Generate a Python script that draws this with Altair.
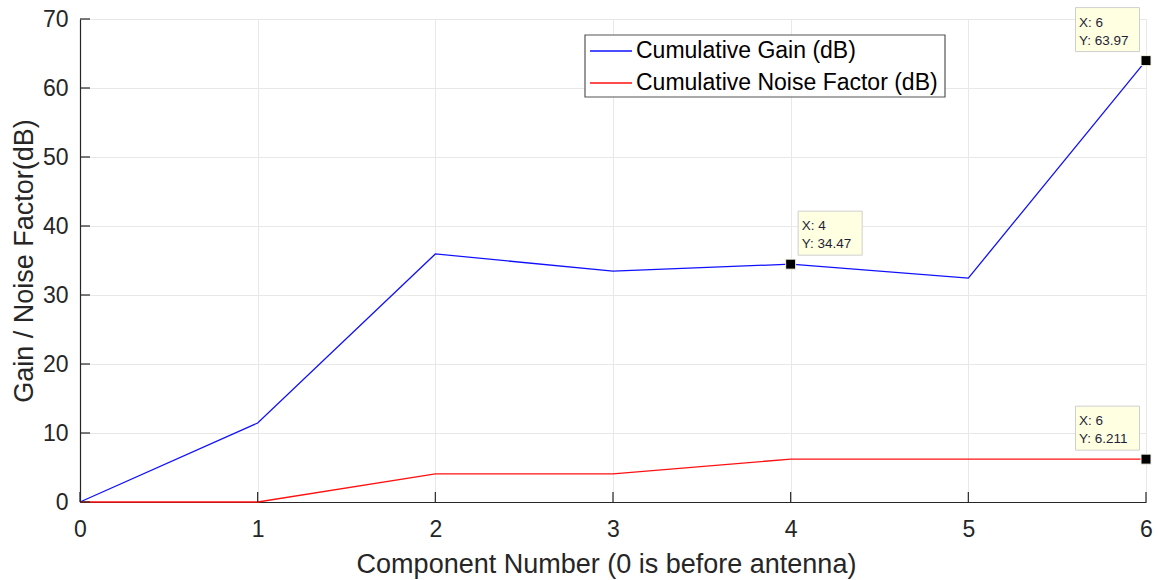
import altair as alt
import pandas as pd

# Component index along the receive chain (0 is before the antenna)
components = [0, 1, 2, 3, 4, 5, 6]
cumulative_gain = [0, 11.45, 35.95, 33.45, 34.47, 32.45, 63.97]
cumulative_nf = [0, 0, 4.08, 4.08, 6.211, 6.211, 6.211]
series_names = ["Cumulative Gain (dB)", "Cumulative Noise Factor (dB)"]
series_colors = ["#1010ff", "#ff1010"]

# Data tips shown on the chart
tip_x = [4, 6, 6]
tip_y = [34.47, 63.97, 6.211]
tip_side = ["right", "left", "left"]

x_ticks = [0, 1, 2, 3, 4, 5, 6]
y_ticks = [0, 10, 20, 30, 40, 50, 60, 70]

W, H = 1066, 483
AXIS = "#262626"
FONT = "Liberation Sans"

lines_df = pd.DataFrame(
    {
        "component": components * 2,
        "value": cumulative_gain + cumulative_nf,
        "series": [series_names[0]] * len(components) + [series_names[1]] * len(components),
    }
)


def fmt(v):
    return f"{v:.4g}"


tips_df = pd.DataFrame(
    {
        "x": tip_x,
        "y": tip_y,
        "side": tip_side,
        "label": [f"X: {fmt(a)}\nY: {fmt(b)}" for a, b in zip(tip_x, tip_y)],
    }
)

x_scale = alt.Scale(domain=[0, 6], nice=False, zero=False)
y_scale = alt.Scale(domain=[0, 70], nice=False)
color_scale = alt.Scale(domain=series_names, range=series_colors)

x_enc = alt.X(
    "component:Q",
    scale=x_scale,
    axis=alt.Axis(
        values=x_ticks,
        format="d",
        title="Component Number (0 is before antenna)",
        titleFontSize=27,
        titleFontWeight="normal",
        titleColor=AXIS,
        titlePadding=10,
        titleX=526,
        labelFontSize=23,
        labelColor=AXIS,
        labelPadding=16,
        tickSize=0,
        domainColor=AXIS,
        domainWidth=1.2,
        grid=True,
        gridColor="#e8e8e8",
        labelFlush=False,
    ),
)
y_enc = alt.Y(
    "value:Q",
    scale=y_scale,
    axis=alt.Axis(
        values=y_ticks,
        title="Gain / Noise Factor(dB)",
        titleFontSize=27,
        titleFontWeight="normal",
        titleColor=AXIS,
        titlePadding=4,
        labelFontSize=23,
        labelColor=AXIS,
        labelPadding=12,
        tickSize=0,
        domainColor=AXIS,
        domainWidth=1.2,
        grid=True,
        gridColor="#e8e8e8",
        labelFlush=False,
    ),
)

lines = (
    alt.Chart(lines_df)
    .mark_line(strokeWidth=1.3)
    .encode(
        x=x_enc,
        y=y_enc,
        color=alt.Color("series:N", scale=color_scale, legend=None),
    )
)

# Inward tick marks on the bottom and left axes
xtick_df = pd.DataFrame({"component": x_ticks})
ytick_df = pd.DataFrame({"value": y_ticks})
xticks = (
    alt.Chart(xtick_df)
    .mark_rule(color=AXIS, strokeWidth=1.2)
    .encode(x=alt.X("component:Q", scale=x_scale), y=alt.value(H), y2=alt.value(H - 10))
)
yticks = (
    alt.Chart(ytick_df)
    .mark_rule(color=AXIS, strokeWidth=1.2)
    .encode(y=alt.Y("value:Q", scale=y_scale), x=alt.value(0), x2=alt.value(10))
)

# Boxed legend in the upper part of the plot area
legend_df = pd.DataFrame({"series": series_names, "row": list(range(len(series_names)))})
legend_box = (
    alt.Chart(legend_df)
    .mark_rect(fill="white", stroke="#555555", strokeWidth=1.2)
    .encode(x=alt.value(505), x2=alt.value(865), y=alt.value(16), y2=alt.value(78))
    .transform_filter(alt.datum.row == 0)
)
legend_base = alt.Chart(legend_df).transform_calculate(py="32 + 32 * datum.row")
legend_lines = legend_base.mark_rule(strokeWidth=1.3).encode(
    x=alt.value(510),
    x2=alt.value(552),
    y=alt.Y("py:Q", scale=None),
    color=alt.Color("series:N", scale=color_scale, legend=None),
)
legend_text = legend_base.mark_text(
    align="left", baseline="middle", fontSize=23, font=FONT, color="#000000"
).encode(x=alt.value(556), y=alt.Y("py:Q", scale=None), text="series:N")

tip_base = alt.Chart(tips_df).encode(
    x=alt.X("x:Q", scale=x_scale), y=alt.Y("y:Q", scale=y_scale)
)

boxes_right = tip_base.transform_filter(alt.datum.side == "right").mark_rect(
    width=64, height=44, xOffset=39.5, yOffset=-31, fill="#ffffe1", stroke="#cfcfcf", strokeWidth=1
)
boxes_left = tip_base.transform_filter(alt.datum.side == "left").mark_rect(
    width=64, height=44, xOffset=-38.5, yOffset=-31, fill="#ffffe1", stroke="#cfcfcf", strokeWidth=1
)
text_right = tip_base.transform_filter(alt.datum.side == "right").mark_text(
    align="left", baseline="top", dx=11, dy=-45, fontSize=13.5, font=FONT,
    color="#1f1f3a", lineBreak="\n", lineHeight=18,
).encode(text="label:N")
text_left = tip_base.transform_filter(alt.datum.side == "left").mark_text(
    align="left", baseline="top", dx=-67, dy=-45, fontSize=13.5, font=FONT,
    color="#1f1f3a", lineBreak="\n", lineHeight=18,
).encode(text="label:N")
markers = tip_base.mark_square(size=100, fill="black", stroke="#f2f2e6", strokeWidth=1, opacity=1)

chart = (
    alt.layer(
        lines, xticks, yticks,
        legend_box, legend_lines, legend_text,
        boxes_right, boxes_left, text_right, text_left, markers,
    )
    .properties(
        width=W,
        height=H,
        autosize=alt.AutoSizeParams(type="none"),
        padding={"left": 80, "top": 19, "right": 12, "bottom": 78},
        background="white",
    )
    .configure_view(stroke="#cccccc", strokeWidth=1)
    .configure(font=FONT)
)

chart.save("out.html", embed_options={"renderer": "svg", "actions": False})
